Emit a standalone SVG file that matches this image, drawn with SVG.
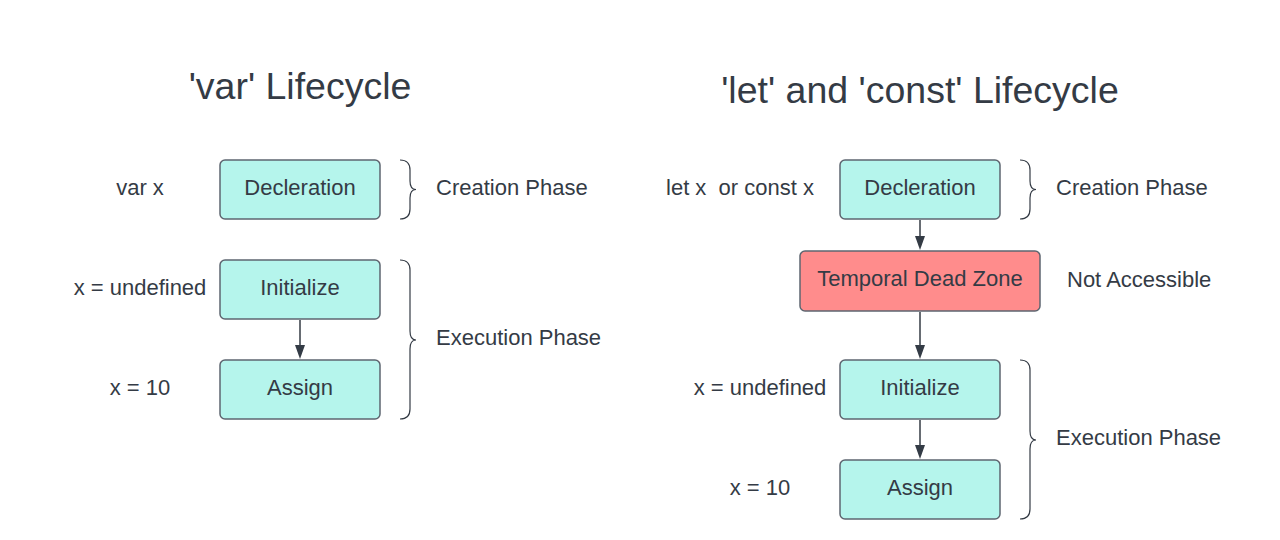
<svg xmlns="http://www.w3.org/2000/svg" width="1280" height="540" viewBox="0 0 1280 540">
<style>
text{font-family:"Liberation Sans",Arial,sans-serif;fill:#343b45}
.t{font-size:37.5px;text-anchor:middle}
.l{font-size:22px}
.c{text-anchor:middle}
.box{fill:#b5f5ec;stroke:#5e6670;stroke-width:1.5}
.red{fill:#ff8c8c;stroke:#5e6670;stroke-width:1.5}
.br{fill:none;stroke:#343b45;stroke-width:1.2}
.con{stroke:#343b45;stroke-width:1.5;fill:none}
.ah{fill:#343b45}
</style>
<rect width="1280" height="540" fill="#ffffff"/>
<text class="t" x="300" y="99">'var' Lifecycle</text>
<text class="t" x="920" y="103">'let' and 'const' Lifecycle</text>

<g id="connectors">
<path class="con" d="M300,320 V346"/>
<path class="ah" d="M295,345 L305,345 L300,359 Z"/>
<path class="con" d="M920,220 V237"/>
<path class="ah" d="M915,236 L925,236 L920,250 Z"/>
<path class="con" d="M920,312 V346"/>
<path class="ah" d="M915,345 L925,345 L920,359 Z"/>
<path class="con" d="M920,420 V446"/>
<path class="ah" d="M915,445 L925,445 L920,459 Z"/>
</g>

<g id="var-decl"><rect class="box" x="220" y="160" width="160" height="59" rx="5"/><text class="l c" x="300" y="195">Decleration</text></g>
<g id="var-init"><rect class="box" x="220" y="260" width="160" height="59" rx="5"/><text class="l c" x="300" y="295">Initialize</text></g>
<g id="var-assign"><rect class="box" x="220" y="360" width="160" height="59" rx="5"/><text class="l c" x="300" y="395">Assign</text></g>

<g id="let-decl"><rect class="box" x="840" y="160" width="160" height="59" rx="5"/><text class="l c" x="920" y="195">Decleration</text></g>
<g id="let-tdz"><rect class="red" x="800" y="251" width="240" height="60" rx="5"/><text class="l c" x="920" y="286">Temporal Dead Zone</text></g>
<g id="let-init"><rect class="box" x="840" y="360" width="160" height="59" rx="5"/><text class="l c" x="920" y="395">Initialize</text></g>
<g id="let-assign"><rect class="box" x="840" y="460" width="160" height="59" rx="5"/><text class="l c" x="920" y="495">Assign</text></g>

<g id="labels">
<text class="l c" x="140" y="195">var x</text>
<text class="l c" x="140" y="295">x = undefined</text>
<text class="l c" x="140" y="395">x = 10</text>
<text class="l" x="436" y="195">Creation Phase</text>
<text class="l" x="436" y="345">Execution Phase</text>
<text class="l c" x="740" y="195" xml:space="preserve">let x  or const x</text>
<text class="l" x="1067" y="287">Not Accessible</text>
<text class="l c" x="760" y="395">x = undefined</text>
<text class="l c" x="760" y="495">x = 10</text>
<text class="l" x="1056" y="195">Creation Phase</text>
<text class="l" x="1056" y="445">Execution Phase</text>
</g>

<g id="braces">
<path class="br" d="M400,160 Q410,160 410,170 V181 Q410,189.5 416,189.5 Q410,189.5 410,198 V209 Q410,219 400,219"/>
<path class="br" d="M400,260 Q410,260 410,270 V331 Q410,340 416,340 Q410,340 410,349 V409 Q410,419 400,419"/>
<path class="br" d="M1020,160 Q1030,160 1030,170 V181 Q1030,189.5 1036,189.5 Q1030,189.5 1030,198 V209 Q1030,219 1020,219"/>
<path class="br" d="M1020,360 Q1030,360 1030,370 V431 Q1030,440 1036,440 Q1030,440 1030,449 V509 Q1030,519 1020,519"/>
</g>
</svg>
